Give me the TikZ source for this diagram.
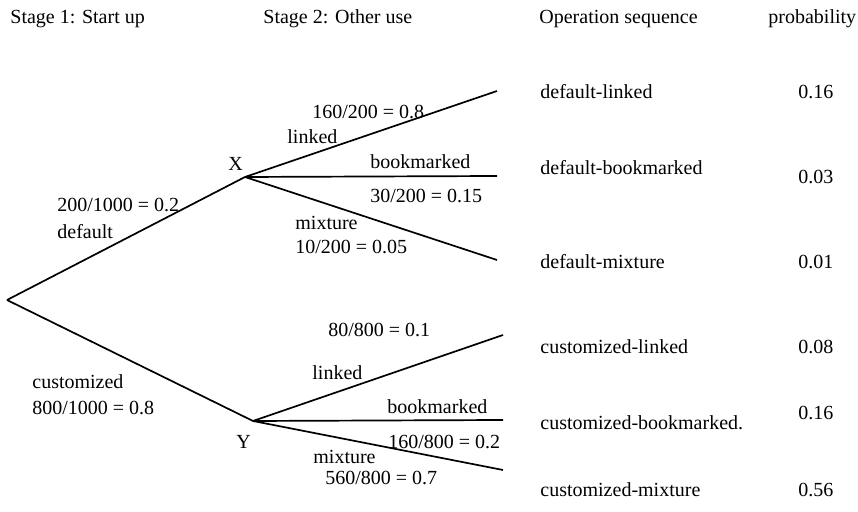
\documentclass[tikz,border=0pt]{standalone}
\usepackage{fontspec}
\setmainfont{Liberation Serif}
\begin{document}
\begin{tikzpicture}[x=0.5pt,y=-0.5pt,
  lbl/.style={anchor=west,inner sep=0pt,text height=0.68em,text depth=0pt,font=\fontsize{10}{12}\selectfont},
  branch/.style={line width=0.85pt,black}]
\useasboundingbox (0,0) rectangle (858,512);
% headers
\node[lbl] (h1) at (10,17) {Stage 1: Start up};
\node[lbl] (h2) at (263,17) {Stage 2: Other use};
\node[lbl] (h3) at (539,17) {Operation sequence};
\node[lbl] (h4) at (768,17) {probability};
% tree points
\coordinate (R) at (7,300);
\coordinate (X) at (245,177);
\coordinate (Y) at (253,421);
\coordinate (XL) at (497,91);
\coordinate (XB) at (497,176);
\coordinate (XM) at (497,260);
\coordinate (YL) at (503,335);
\coordinate (YB) at (503,420);
\coordinate (YM) at (503,470);
\draw[branch] (R) -- (X);
\draw[branch] (R) -- (Y);
\draw[branch] (X) -- (XL);
\draw[branch] (X) -- (XB);
\draw[branch] (X) -- (XM);
\draw[branch] (Y) -- (YL);
\draw[branch] (Y) -- (YB);
\draw[branch] (Y) -- (YM);
% node letters
\node[lbl] (xl) at (228,164) {X};
\node[lbl] (yl) at (236,442) {Y};
% stage 1 labels
\node[lbl] (d1) at (57,205) {200/1000 = 0.2};
\node[lbl] (d2) at (57,232) {default};
\node[lbl] (c1) at (32,382) {customized};
\node[lbl] (c2) at (32,408) {800/1000 = 0.8};
% X branch labels
\node[lbl] (xl1) at (312,112) {160/200 = 0.8};
\node[lbl] (xl2) at (287,137) {linked};
\node[lbl] (xb1) at (370,162) {bookmarked};
\node[lbl] (xb2) at (370,196) {30/200 = 0.15};
\node[lbl] (xm1) at (295,223) {mixture};
\node[lbl] (xm2) at (295,247) {10/200 = 0.05};
% Y branch labels
\node[lbl] (yl1) at (328,330) {80/800 = 0.1};
\node[lbl] (yl2) at (312,373) {linked};
\node[lbl] (yb1) at (387,407) {bookmarked};
\node[lbl] (yb2) at (388,442) {160/800 = 0.2};
\node[lbl] (ym1) at (313,457) {mixture};
\node[lbl] (ym2) at (325,478) {560/800 = 0.7};
% sequences
\node[lbl] (s1) at (540,92) {default-linked};
\node[lbl] (s2) at (540,168) {default-bookmarked};
\node[lbl] (s3) at (540,262) {default-mixture};
\node[lbl] (s4) at (540,347) {customized-linked};
\node[lbl] (s5) at (540,423) {customized-bookmarked.};
\node[lbl] (s6) at (540,490) {customized-mixture};
% probabilities
\node[lbl] (p1) at (798,92) {0.16};
\node[lbl] (p2) at (798,177) {0.03};
\node[lbl] (p3) at (798,262) {0.01};
\node[lbl] (p4) at (798,347) {0.08};
\node[lbl] (p5) at (798,413) {0.16};
\node[lbl] (p6) at (798,490) {0.56};
\end{tikzpicture}
\end{document}
